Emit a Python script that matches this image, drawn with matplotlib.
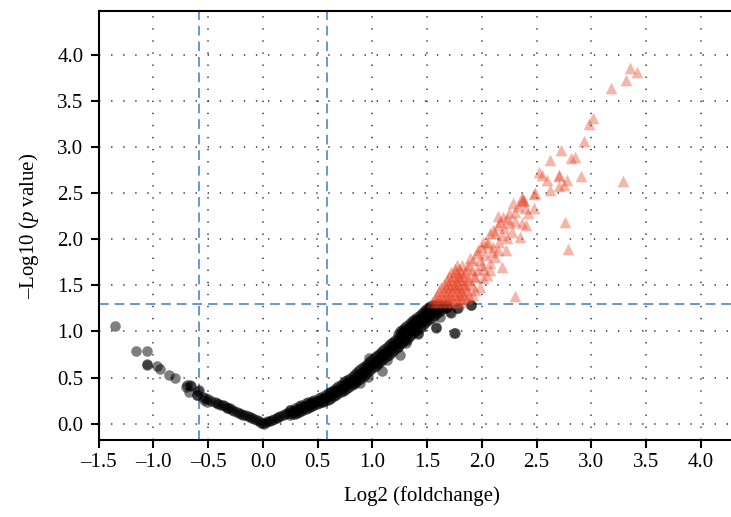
import matplotlib
matplotlib.use("Agg")
import matplotlib.pyplot as plt
import numpy as np

plt.rcParams['font.family'] = ['Liberation Serif', 'DejaVu Serif']
plt.rcParams['mathtext.fontset'] = 'custom'
plt.rcParams['mathtext.rm'] = 'Liberation Serif'
plt.rcParams['mathtext.it'] = 'Liberation Serif:italic'

# ---------------- data ----------------
# non-significant genes, left branch and around zero
left_x = [-1.352, -1.16, -1.057, -1.057, -1.06, -0.971, -0.94, -0.861, -0.804,
          -0.706, -0.697, -0.667, -0.66, -0.676, -0.59, -0.584, -0.60, -0.605,
          -0.545, -0.53, -0.514, -0.54, -0.50, -0.47, -0.438, -0.423, -0.41,
          -0.38, -0.362, -0.35, -0.33, -0.315, -0.301, -0.28, -0.26, -0.24,
          -0.22, -0.20, -0.18, -0.16, -0.14, -0.119, -0.10, -0.08, -0.058,
          -0.04, -0.02, 0.003, 0.01, 0.03, 0.05, 0.064, 0.08, 0.10, 0.125,
          0.14, 0.16, 0.186, 0.20, 0.22, 0.246]
left_y = [1.06, 0.79, 0.79, 0.645, 0.64, 0.626, 0.59, 0.525, 0.50,
          0.395, 0.42, 0.42, 0.41, 0.34, 0.35, 0.366, 0.31, 0.31,
          0.29, 0.275, 0.24, 0.26, 0.27, 0.25, 0.24, 0.22, 0.215,
          0.20, 0.204, 0.19, 0.175, 0.17, 0.168, 0.15, 0.14, 0.13,
          0.12, 0.11, 0.095, 0.09, 0.08, 0.07, 0.06, 0.05, 0.04,
          0.025, 0.012, 0.005, 0.0, 0.02, 0.03, 0.033, 0.045, 0.05, 0.06,
          0.07, 0.085, 0.095, 0.10, 0.12, 0.15]

# dense non-significant band on the right (x, several y values per x)
band_x = [0.25, 0.27, 0.29, 0.31, 0.33, 0.35, 0.37, 0.39, 0.41, 0.43, 0.45,
          0.47, 0.49, 0.51, 0.53, 0.55, 0.57, 0.59, 0.61, 0.63, 0.65, 0.67,
          0.69, 0.71, 0.73, 0.75, 0.77, 0.79, 0.81, 0.83, 0.85, 0.87, 0.89,
          0.91, 0.93, 0.95, 0.97, 0.99, 1.01, 1.03, 1.05, 1.07, 1.09, 1.11,
          1.13, 1.15, 1.17, 1.19, 1.21, 1.23, 1.25, 1.27, 1.29, 1.31, 1.33,
          1.35, 1.37, 1.39, 1.41, 1.43, 1.45, 1.47, 1.49, 1.51, 1.53, 1.55,
          1.57, 1.59, 1.61, 1.63, 1.65, 1.67, 1.69]
band_y = [[0.09, 0.12, 0.15], [0.10, 0.14], [0.11, 0.14, 0.17], [0.12, 0.16],
          [0.13, 0.16, 0.19], [0.14, 0.17, 0.20], [0.15, 0.19], [0.16, 0.19, 0.22],
          [0.17, 0.20, 0.23], [0.18, 0.22], [0.19, 0.22, 0.25], [0.20, 0.23, 0.26],
          [0.21, 0.25], [0.22, 0.25, 0.28], [0.23, 0.26, 0.29], [0.24, 0.28],
          [0.25, 0.28, 0.31], [0.26, 0.30, 0.33], [0.27, 0.31, 0.34],
          [0.29, 0.32, 0.36], [0.30, 0.34, 0.37], [0.31, 0.35, 0.39],
          [0.33, 0.37, 0.41], [0.34, 0.38, 0.42], [0.36, 0.40, 0.44],
          [0.37, 0.42, 0.46], [0.39, 0.43, 0.47], [0.40, 0.45, 0.49],
          [0.42, 0.46, 0.51], [0.43, 0.48, 0.53], [0.45, 0.50, 0.55],
          [0.47, 0.52, 0.57], [0.49, 0.54, 0.59], [0.51, 0.56, 0.61],
          [0.53, 0.58, 0.63], [0.55, 0.60, 0.65], [0.57, 0.62, 0.67, 0.71],
          [0.59, 0.64, 0.69], [0.61, 0.66, 0.71], [0.63, 0.68, 0.73],
          [0.65, 0.70, 0.75], [0.67, 0.72, 0.77], [0.69, 0.74, 0.79],
          [0.71, 0.76, 0.81], [0.73, 0.78, 0.83], [0.75, 0.80, 0.85],
          [0.77, 0.82, 0.87], [0.79, 0.84, 0.89], [0.81, 0.86, 0.91],
          [0.83, 0.88, 0.93, 0.97], [0.86, 0.91, 0.96, 1.00],
          [0.88, 0.93, 0.98, 1.02], [0.90, 0.95, 1.00, 1.04],
          [0.92, 0.97, 1.02, 1.06], [0.94, 0.99, 1.04, 1.08],
          [0.96, 1.01, 1.06, 1.10], [0.98, 1.03, 1.08, 1.12],
          [1.00, 1.05, 1.10, 1.14], [1.02, 1.07, 1.12, 1.16],
          [1.04, 1.09, 1.14, 1.18], [1.06, 1.11, 1.16, 1.20],
          [1.08, 1.13, 1.18, 1.22], [1.10, 1.15, 1.20, 1.24],
          [1.12, 1.17, 1.22, 1.26], [1.14, 1.19, 1.24, 1.28],
          [1.16, 1.21, 1.25, 1.29], [1.18, 1.22, 1.26, 1.29],
          [1.20, 1.24, 1.28], [1.21, 1.25, 1.29], [1.23, 1.27, 1.29],
          [1.25, 1.28], [1.26, 1.29], [1.28]]

# scattered non-significant genes below/right of the band
out_x = [0.825, 0.886, 0.962, 1.084, 1.044, 1.13, 1.251, 1.236, 1.312, 1.31,
         1.42, 1.42, 1.585, 1.585, 1.744, 1.753, 1.72, 1.708, 1.77, 1.784,
         1.90, 1.897, 1.616, 1.677]
out_y = [0.438, 0.438, 0.503, 0.575, 0.655, 0.69, 0.745, 0.836, 0.905, 0.87,
         0.97, 0.98, 1.035, 1.05, 0.987, 0.98, 1.20, 1.215, 1.26, 1.25,
         1.29, 1.287, 1.16, 1.27]

# significant up-regulated genes (triangles)
up_x = [3.352, 3.418, 3.318, 3.181, 3.011, 2.98, 2.93, 2.719, 2.618, 2.813,
        2.846, 2.525, 2.55, 2.594, 2.707, 2.707, 2.774, 2.746, 2.70, 2.625,
        2.904, 3.285, 2.48, 2.365, 2.38,
        2.362, 2.378, 2.484, 2.28, 2.332, 2.393, 2.423, 2.478, 2.302, 2.195,
        2.225, 2.164, 2.149, 2.256, 2.362, 2.402, 2.758, 2.073, 2.119, 2.18,
        2.271, 2.225, 2.347, 2.012, 2.058, 1.997, 2.104, 2.149, 2.219, 1.951,
        2.027, 2.119, 1.921, 1.982, 2.073, 2.18, 1.875, 1.906, 1.951, 2.012,
        2.043, 1.845, 1.799, 1.86, 1.936, 2.012, 1.906, 1.982, 1.86, 1.921,
        2.302, 1.814, 1.753, 2.79,
        2.10, 2.20, 2.30, 2.15, 2.25, 2.05, 2.16, 1.96, 2.09, 1.89, 2.00,
        1.93, 2.07, 1.85, 1.94, 1.88,
        1.54, 1.58, 1.62, 1.66, 1.70, 1.74, 1.78, 1.82,
        1.57, 1.61, 1.65, 1.69, 1.73, 1.77, 1.81, 1.86,
        1.59, 1.63, 1.67, 1.71, 1.75, 1.79, 1.84,
        1.61, 1.65, 1.69, 1.73, 1.77, 1.81,
        1.63, 1.67, 1.71, 1.75, 1.79, 1.85,
        1.65, 1.69, 1.73, 1.77, 1.82,
        1.68, 1.72, 1.76, 1.80, 1.88,
        1.70, 1.74, 1.78, 1.83,
        1.72, 1.76, 1.81,
        1.75, 1.79, 1.86,
        1.77, 1.82]
up_y = [3.855, 3.81, 3.725, 3.643, 3.32, 3.25, 3.07, 2.97, 2.86, 2.88,
        2.89, 2.73, 2.70, 2.64, 2.69, 2.70, 2.64, 2.59, 2.58, 2.54,
        2.69, 2.635, 2.49, 2.43, 2.42,
        2.46, 2.43, 2.506, 2.39, 2.36, 2.335, 2.29, 2.34, 2.30, 2.245,
        2.216, 2.19, 2.155, 2.173, 2.173, 2.155, 2.19, 2.064, 2.064, 2.046,
        2.082, 2.01, 2.029, 1.97, 1.97, 1.92, 1.92, 1.884, 1.884, 1.848,
        1.83, 1.812, 1.775, 1.775, 1.746, 1.703, 1.721, 1.667, 1.667, 1.674,
        1.613, 1.631, 1.594, 1.558, 1.594, 1.576, 1.504, 1.486, 1.45, 1.395,
        1.385, 1.413, 1.504, 1.90,
        2.10, 2.12, 2.20, 2.25, 2.28, 1.95, 1.97, 1.88, 1.86, 1.80, 1.72,
        1.60, 1.67, 1.52, 1.45, 1.38,
        1.32, 1.32, 1.32, 1.32, 1.32, 1.32, 1.32, 1.32,
        1.36, 1.36, 1.36, 1.36, 1.36, 1.36, 1.36, 1.36,
        1.40, 1.40, 1.40, 1.40, 1.40, 1.40, 1.40,
        1.44, 1.44, 1.44, 1.44, 1.44, 1.44,
        1.48, 1.48, 1.48, 1.48, 1.48, 1.48,
        1.52, 1.52, 1.52, 1.52, 1.52,
        1.56, 1.56, 1.56, 1.56, 1.56,
        1.60, 1.60, 1.60, 1.60,
        1.64, 1.64, 1.64,
        1.68, 1.68, 1.68,
        1.72, 1.72]

fc_cut = 0.585      # log2(1.5)
p_cut = 1.301       # -log10(0.05)
xticks = [-1.5, -1.0, -0.5, 0.0, 0.5, 1.0, 1.5, 2.0, 2.5, 3.0, 3.5, 4.0]
yticks = [0.0, 0.5, 1.0, 1.5, 2.0, 2.5, 3.0, 3.5, 4.0]

# ---------------- assemble non-significant set ----------------
ns_x = list(left_x) + list(out_x)
ns_y = list(left_y) + list(out_y)
for bx, ys in zip(band_x, band_y):
    for yv in ys:
        ns_x.append(bx)
        ns_y.append(yv)

# ---------------- figure ----------------
W, H = 731, 517
fig = plt.figure(figsize=(W / 100, H / 100), dpi=100)
ax = fig.add_axes([98.7 / W, 1 - 440.3 / H, (744.7 - 98.7) / W, (440.3 - 11) / H])
ax.set_xlim(-1.5, 4.40)
ax.set_ylim(-0.18, 4.476)

ax.set_xticks(xticks)
ax.set_yticks(yticks)
ax.set_xticklabels([f"{v:.1f}".replace('-', '\u2013') for v in xticks])
ax.set_yticklabels([f"{v:.1f}" for v in yticks])

ax.grid(True, color='#333333', linewidth=1.1, linestyle=(0, (0.9, 7.0)))
ax.set_axisbelow(True)

for s in ['left', 'bottom', 'top']:
    ax.spines[s].set_linewidth(1.5)
    ax.spines[s].set_color('black')
ax.spines['right'].set_visible(False)

ax.tick_params(axis='both', direction='out', length=6, width=1.5,
               labelsize=15, color='black')
ax.tick_params(axis='y', pad=5)
ax.tick_params(axis='x', pad=3)

blue = '#6699cc'
ax.axvline(-fc_cut, color=blue, lw=1.4, dashes=(5, 3), zorder=1.5)
ax.axvline(fc_cut, color=blue, lw=1.4, dashes=(5, 3), zorder=1.5)
ax.axhline(p_cut, color=blue, lw=1.4, dashes=(5, 3), zorder=1.5)

ax.scatter(ns_x, ns_y, s=58, marker='o', color='#000000', alpha=0.5,
           linewidths=0, zorder=3)
ax.scatter(up_x, up_y, s=70, marker='^', color='#e8462a', alpha=0.4,
           linewidths=0, zorder=3)

ax.set_xlabel('Log2 (foldchange)', fontsize=15, labelpad=10)
ax.set_ylabel('\u2013Log10 ($p$ value)', fontsize=15, labelpad=12)

fig.savefig('out.png', dpi=100)
